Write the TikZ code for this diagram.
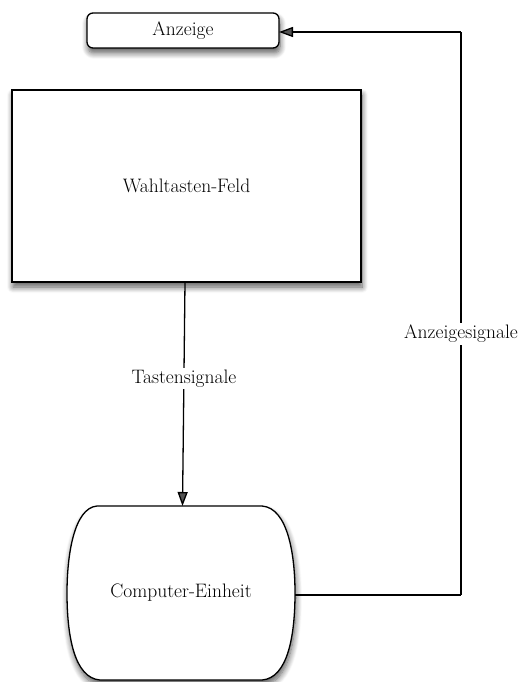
\documentclass[tikz,border=0pt]{standalone}
\usepackage{fontspec}
\usetikzlibrary{arrows.meta,shadows.blur}
\begin{document}
\begin{tikzpicture}[x=1pt,y=-1pt,
  every node/.style={font=\fontsize{19.5}{22}\selectfont},
  boxshadow/.style={blur shadow={shadow xshift=1pt,shadow yshift=-5pt,shadow blur steps=8,shadow blur radius=6pt,shadow opacity=65}},
  box/.style={draw=black,line width=1.3pt,fill=white,boxshadow},
  link/.style={line width=1.3pt,-{Triangle[length=14pt,width=10pt]}},
  lab/.style={fill=white,inner sep=2pt}]
\useasboundingbox (0,0) rectangle (520,682);
\node[box,rounded corners=6pt,minimum width=192pt,minimum height=35pt] (a) at (183,30.5) {Anzeige};
\node[box,minimum width=349pt,minimum height=192pt] (w) at (186.5,186) {Wahltasten-Feld};
% Computer unit shape
\draw[line width=1.3pt,fill=white,boxshadow]
  (97,506) -- (262,506) .. controls (288,508) and (295,555) .. (295,593)
  .. controls (295,635) and (288,678) .. (262,680) -- (100,680)
  .. controls (74,678) and (67,635) .. (67,593)
  .. controls (67,555) and (74,508) .. (97,506) -- cycle;
\node[minimum width=228pt,minimum height=174pt,inner sep=0pt] (c) at (181,593) {Computer-Einheit};
\coordinate (ws) at (185,282);
\coordinate (ct) at (182.5,506);
\coordinate (ce) at (295,595);
\coordinate (rb) at (461,595);
\coordinate (rt) at (461,32);
\coordinate (ae) at (279,32);
\draw[link] (ws) -- node[lab,pos=0.43] (t1) {Tastensignale} (ct);
\draw[line width=1.3pt] (ce) -- (rb);
\draw[line width=1.3pt] (rb) -- node[lab,pos=0.464] (t2) {Anzeigesignale} (rt);
\draw[link] (rt) -- (ae);
\end{tikzpicture}
\end{document}
